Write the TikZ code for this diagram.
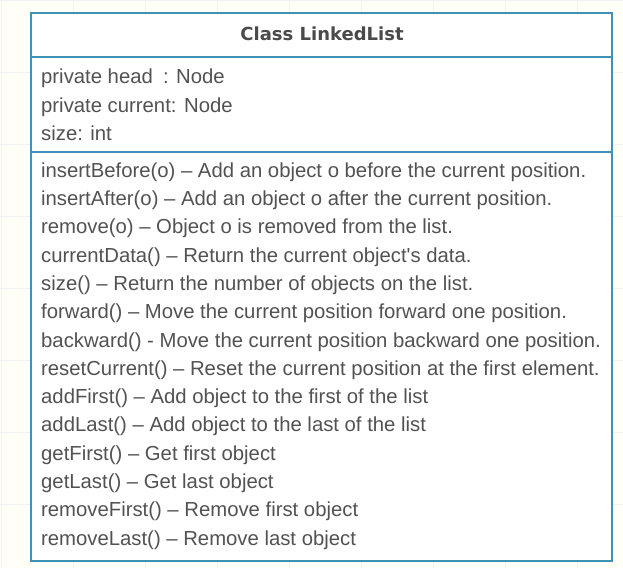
\documentclass[tikz,border=0pt]{standalone}
\usepackage{fontspec}
\setmainfont{Liberation Sans}
\newfontfamily\hdrfont{DejaVu Sans}
\definecolor{frame}{RGB}{62,146,181}
\definecolor{txt}{RGB}{82,82,82}
\definecolor{gridc}{RGB}{238,243,241}
\begin{document}
\begin{tikzpicture}[x=1pt,y=-1pt,
  line/.style={anchor=base west,text=txt,font=\fontsize{20.3}{22}\selectfont,inner sep=0pt},
  framel/.style={draw=frame,line width=2.8pt}]
\useasboundingbox (0,0) rectangle (623,568);
\fill[white!97!yellow] (0,0) rectangle (623,568);
\foreach \gx in {1,73,...,623} \draw[gridc,line width=0.6pt] (\gx,0) -- (\gx,568);
\foreach \gy in {0,72,...,568} \draw[gridc,line width=0.6pt] (0,\gy) -- (623,\gy);
\coordinate (tl) at (31,13);
\coordinate (br) at (612,561);
\fill[white] (tl) rectangle (br);
\draw[framel] (tl) rectangle (br);
\coordinate (h1) at (31,57); \coordinate (h2) at (612,57);
\coordinate (a1) at (31,152); \coordinate (a2) at (612,152);
\draw[framel] (h1) -- (h2);
\draw[framel] (a1) -- (a2);
\node[text=txt!90!black,font=\hdrfont\bfseries\fontsize{18}{20}\selectfont,inner sep=0pt] (title) at (322,33.5) {Class LinkedList};
\node[line] (at1) at (41,83.5) {private head\enspace: Node};
\node[line] (at2) at (41,112) {private current: Node};
\node[line] (at3) at (41,140.3) {size: int};
\foreach \t [count=\i] in {
  {insertBefore(o) – Add an object o before the current position.},
  {insertAfter(o) – Add an object o after the current position.},
  {remove(o) – Object o is removed from the list.},
  {currentData() – Return the current object\textquotesingle s data.},
  {size() – Return the number of objects on the list.},
  {forward() – Move the current position forward one position.},
  {backward() - Move the current position backward one position.},
  {resetCurrent() – Reset the current position at the first element.},
  {addFirst() – Add object to the first of the list},
  {addLast() – Add object to the last of the list},
  {getFirst() – Get first object},
  {getLast() – Get last object},
  {removeFirst() – Remove first object},
  {removeLast() – Remove last object}}
  \node[line] (m\i) at (41,{177.2+(\i-1)*28.3}) {\t};
\end{tikzpicture}
\end{document}
